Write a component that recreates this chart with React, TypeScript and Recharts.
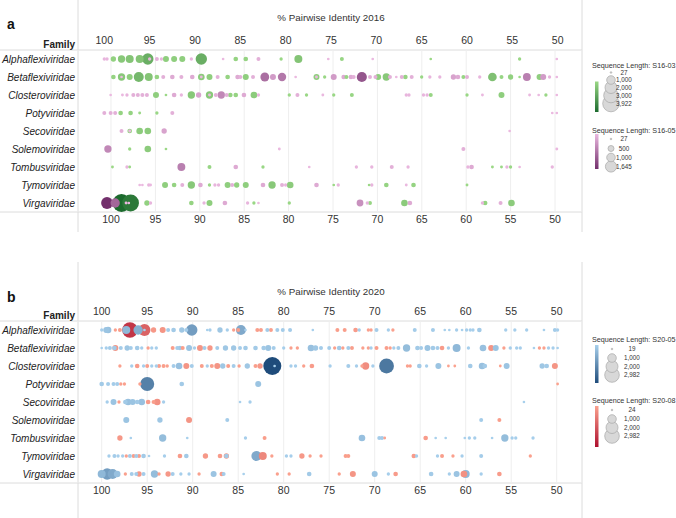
import React from 'react';
import { ScatterChart, Scatter, XAxis, YAxis, ZAxis, CartesianGrid } from 'recharts';

const FAMILIES = ['Alphaflexiviridae', 'Betaflexiviridae', 'Closteroviridae', 'Potyviridae', 'Secoviridae', 'Solemoviridae', 'Tombusviridae', 'Tymoviridae', 'Virgaviridae'];
const FAM_KEYS = ['A', 'B', 'C', 'P', 'S', 'So', 'T', 'Ty', 'V'];
const PID_TICKS = [100, 95, 90, 85, 80, 75, 70, 65, 60, 55, 50];
const ROW_TICKS = [0, 1, 2, 3, 4, 5, 6, 7, 8];

type Row = [string, number, number]; // family key, % pairwise identity, sequence length

// ---------- 2016, S16-03 (green) ----------
const S16_03: Row[] = [
  ['A', 99.0, 287], ['A', 98.1, 599], ['A', 97.2, 726], ['A', 96.1, 726], ['A', 95.2, 1520], ['A', 93.2, 381], ['A', 92.3, 381], ['A', 91.4, 381], ['A', 89.3, 1520], ['A', 85.5, 205], ['A', 84.4, 205], ['A', 80.5, 74], ['A', 78.6, 726], ['A', 73.8, 134], ['A', 64.0, 27], ['A', 54.2, 74],
  ['B', 99.0, 205], ['B', 98.1, 599], ['B', 97.2, 381], ['B', 96.2, 1169], ['B', 95.1, 726], ['B', 94.2, 205], ['B', 89.3, 485], ['B', 88.4, 381], ['B', 86.4, 205], ['B', 84.4, 381], ['B', 76.6, 381], ['B', 75.7, 74], ['B', 73.3, 134], ['B', 69.8, 381], ['B', 68.9, 599], ['B', 66.8, 205], ['B', 65.0, 74], ['B', 60.4, 134], ['B', 57.2, 861], ['B', 56.2, 134], ['B', 55.2, 287], ['B', 54.2, 27], ['B', 52.0, 381],
  ['C', 94.3, 381], ['C', 93.2, 27], ['C', 90.4, 599], ['C', 88.4, 599], ['C', 86.1, 205], ['C', 85.5, 205], ['C', 83.5, 485], ['C', 79.6, 74], ['C', 77.7, 74], ['C', 74.7, 74], ['C', 72.7, 134], ['C', 64.0, 134], ['C', 60.0, 74], ['C', 56.2, 381], ['C', 51.3, 74],
  ['P', 98.2, 205], ['P', 97.1, 205], ['P', 96.1, 40], ['P', 94.2, 74],
  ['S', 97.2, 205], ['S', 96.1, 485], ['S', 95.2, 485],
  ['So', 97.2, 74], ['So', 95.2, 485], ['So', 93.2, 27],
  ['T', 99.1, 40], ['T', 97.2, 40], ['T', 88.4, 134], ['T', 82.5, 74], ['T', 57.2, 40], ['T', 56.2, 40], ['T', 55.2, 74],
  ['Ty', 93.3, 381], ['Ty', 92.3, 205], ['Ty', 90.4, 599], ['Ty', 88.4, 74], ['Ty', 86.4, 381], ['Ty', 85.4, 287], ['Ty', 84.4, 381], ['Ty', 81.5, 599], ['Ty', 79.5, 485], ['Ty', 74.7, 27], ['Ty', 70.8, 27], ['Ty', 68.9, 205], ['Ty', 65.9, 205], ['Ty', 60.0, 40],
  ['V', 98.1, 3922], ['V', 97.1, 3400], ['V', 95.3, 287], ['V', 90.4, 205], ['V', 88.4, 381], ['V', 83.5, 74], ['V', 79.6, 74], ['V', 70.7, 134], ['V', 66.9, 485], ['V', 58.0, 205], ['V', 55.1, 485],
];

// ---------- 2016, S16-05 (pink / purple) ----------
const S16_05: Row[] = [
  ['A', 100, 74], ['A', 99.7, 74], ['A', 95.0, 74], ['A', 94.2, 134], ['A', 93.7, 74], ['A', 90.4, 74], ['A', 86.9, 27], ['A', 83.0, 134], ['A', 75.3, 27], ['A', 70.4, 27], ['A', 50.1, 27],
  ['B', 98.1, 27], ['B', 93.5, 134], ['B', 92.5, 205], ['B', 91.5, 134], ['B', 90.3, 205], ['B', 89.3, 40], ['B', 87.5, 134], ['B', 85.3, 205], ['B', 85.0, 134], ['B', 83.6, 134], ['B', 82.3, 900], ['B', 81.4, 381], ['B', 80.4, 800], ['B', 78.9, 27], ['B', 76.6, 40], ['B', 74.7, 381], ['B', 73.6, 205], ['B', 72.8, 205], ['B', 72.5, 134], ['B', 71.6, 1200], ['B', 70.7, 134], ['B', 70.1, 134], ['B', 68.5, 134], ['B', 67.8, 27], ['B', 67.2, 134], ['B', 66.1, 134], ['B', 64.1, 74], ['B', 63.0, 74], ['B', 61.5, 287], ['B', 61.0, 205], ['B', 60.0, 134], ['B', 58.6, 74], ['B', 53.4, 700], ['B', 51.6, 381], ['B', 50.9, 74], ['B', 50.1, 27],
  ['C', 99.3, 27], ['C', 98.0, 40], ['C', 97.5, 74], ['C', 96.8, 134], ['C', 96.3, 134], ['C', 95.8, 134], ['C', 95.3, 134], ['C', 92.3, 205], ['C', 91.5, 74], ['C', 89.6, 287], ['C', 88.4, 40], ['C', 87.7, 134], ['C', 87.1, 600], ['C', 86.5, 134], ['C', 84.6, 205], ['C', 83.0, 74], ['C', 78.7, 134], ['C', 75.9, 40], ['C', 66.7, 74], ['C', 66.4, 74], ['C', 64.8, 74], ['C', 64.4, 74], ['C', 58.3, 40], ['C', 53.1, 40], ['C', 52.1, 27], ['C', 50.1, 27],
  ['P', 100, 134], ['P', 99.3, 134], ['P', 98.8, 134], ['P', 92.5, 134], ['P', 50.6, 27], ['P', 50.1, 27],
  ['S', 98.1, 134], ['S', 97.2, 40], ['S', 93.4, 287], ['S', 55.3, 27],
  ['So', 99.6, 600], ['So', 80.7, 40], ['So', 60.4, 134], ['So', 50.1, 40],
  ['T', 97.5, 74], ['T', 91.5, 700], ['T', 85.5, 205], ['T', 77.4, 27], ['T', 72.2, 74], ['T', 70.5, 74], ['T', 68.3, 134], ['T', 66.5, 74], ['T', 59.9, 74], ['T', 59.5, 205], ['T', 55.6, 74], ['T', 54.2, 27], ['T', 50.6, 74],
  ['Ty', 96.1, 27], ['Ty', 95.8, 27], ['Ty', 95.1, 74], ['Ty', 94.9, 40], ['Ty', 91.4, 134], ['Ty', 89.4, 205], ['Ty', 87.8, 74], ['Ty', 87.4, 74], ['Ty', 85.9, 134], ['Ty', 82.5, 205], ['Ty', 80.4, 134], ['Ty', 80.0, 74], ['Ty', 76.6, 205], ['Ty', 74.2, 74], ['Ty', 70.5, 74], ['Ty', 66.7, 40],
  ['V', 99.7, 1645], ['V', 98.8, 1000], ['V', 97.6, 40], ['V', 97.3, 27], ['V', 94.9, 74], ['V', 89.0, 74], ['V', 86.7, 205], ['V', 84.2, 74], ['V', 83.0, 27], ['V', 71.8, 500], ['V', 71.0, 74], ['V', 66.3, 205], ['V', 58.3, 74], ['V', 56.3, 134],
];

// ---------- 2020, S20-05 (blue) ----------
const S20_05: Row[] = [
  ['A', 100, 56], ['A', 99.5, 290], ['A', 99.3, 369], ['A', 97.3, 552], ['A', 96.0, 768], ['A', 95.3, 19], ['A', 92.7, 102], ['A', 92.1, 156], ['A', 91.2, 218], ['A', 90.7, 102], ['A', 90.1, 1156], ['A', 88.4, 19], ['A', 88.1, 56], ['A', 87.0, 218], ['A', 86.2, 56], ['A', 84.7, 889], ['A', 84.2, 19], ['A', 81.8, 102], ['A', 80.7, 102], ['A', 80.1, 102], ['A', 79.3, 102], ['A', 76.8, 19], ['A', 71.7, 56], ['A', 69.8, 102], ['A', 68.5, 56], ['A', 65.6, 102], ['A', 63.6, 102], ['A', 62.3, 19], ['A', 61.8, 19], ['A', 61.0, 56], ['A', 60.4, 19], ['A', 59.9, 56], ['A', 59.5, 56], ['A', 59.2, 56], ['A', 58.5, 156], ['A', 55.6, 56], ['A', 54.6, 56], ['A', 53.3, 56], ['A', 51.4, 19], ['A', 50.2, 102], ['A', 49.9, 56],
  ['B', 100, 19], ['B', 99.5, 56], ['B', 99.1, 102], ['B', 98.6, 156], ['B', 97.9, 102], ['B', 97.2, 218], ['B', 96.8, 102], ['B', 96.1, 156], ['B', 95.6, 56], ['B', 94.5, 56], ['B', 94.0, 56], ['B', 91.7, 102], ['B', 91.4, 156], ['B', 90.4, 290], ['B', 89.8, 56], ['B', 88.7, 102], ['B', 87.3, 102], ['B', 86.4, 218], ['B', 85.5, 218], ['B', 84.8, 102], ['B', 84.2, 156], ['B', 83.1, 156], ['B', 82.2, 156], ['B', 81.7, 290], ['B', 81.1, 102], ['B', 80.0, 56], ['B', 77.0, 369], ['B', 76.5, 218], ['B', 75.9, 102], ['B', 75.0, 102], ['B', 73.9, 156], ['B', 72.9, 102], ['B', 70.4, 56], ['B', 67.9, 56], ['B', 67.4, 102], ['B', 66.5, 456], ['B', 65.3, 156], ['B', 64.9, 102], ['B', 64.2, 290], ['B', 63.6, 156], ['B', 63.1, 102], ['B', 61.9, 56], ['B', 61.0, 552], ['B', 59.7, 56], ['B', 58.1, 369], ['B', 56.7, 290], ['B', 55.1, 56], ['B', 54.4, 56], ['B', 54.0, 56], ['B', 52.5, 19], ['B', 50.9, 56], ['B', 50.4, 56], ['B', 49.9, 19],
  ['C', 96.7, 56], ['C', 95.4, 56], ['C', 94.5, 56], ['C', 94.0, 56], ['C', 92.1, 102], ['C', 91.5, 369], ['C', 90.1, 102], ['C', 88.4, 56], ['C', 86.7, 218], ['C', 85.5, 102], ['C', 84.0, 218], ['C', 81.25, 2982], ['C', 81.0, 19], ['C', 79.2, 56], ['C', 78.7, 56], ['C', 74.9, 56], ['C', 72.9, 102], ['C', 72.0, 56], ['C', 70.2, 56], ['C', 68.7, 2000], ['C', 65.1, 156], ['C', 64.3, 56], ['C', 63.0, 290], ['C', 59.5, 156], ['C', 58.2, 369], ['C', 57.9, 156], ['C', 55.5, 290], ['C', 51.6, 218], ['C', 51.1, 156],
  ['P', 100, 156], ['P', 99.3, 102], ['P', 98.7, 102], ['P', 98.3, 102], ['P', 95.0, 1800], ['P', 91.2, 156], ['P', 82.8, 290],
  ['S', 99.4, 56], ['S', 98.7, 290], ['S', 97.4, 156], ['S', 97.1, 369], ['S', 96.6, 290], ['S', 96.1, 156], ['S', 95.6, 369], ['S', 93.2, 56], ['S', 84.8, 19], ['S', 83.7, 56], ['S', 53.6, 19],
  ['So', 97.3, 290], ['So', 93.6, 218], ['So', 86.2, 102], ['So', 58.3, 102],
  ['T', 96.8, 19], ['T', 93.3, 456], ['T', 90.6, 19], ['T', 84.2, 56], ['T', 71.4, 369], ['T', 69.5, 102], ['T', 69.2, 102], ['T', 63.3, 19], ['T', 62.2, 19], ['T', 60.1, 19], ['T', 59.6, 56], ['T', 59.0, 56], ['T', 57.1, 19], ['T', 55.7, 456], ['T', 54.9, 56], ['T', 54.5, 56], ['T', 52.6, 56],
  ['Ty', 99.2, 56], ['Ty', 98.6, 102], ['Ty', 98.2, 56], ['Ty', 97.7, 56], ['Ty', 96.9, 102], ['Ty', 96.2, 102], ['Ty', 95.4, 156], ['Ty', 94.8, 19], ['Ty', 93.1, 56], ['Ty', 90.7, 156], ['Ty', 86.3, 156], ['Ty', 83.0, 889], ['Ty', 79.7, 56], ['Ty', 79.2, 56], ['Ty', 65.4, 56], ['Ty', 63.1, 56], ['Ty', 60.4, 56], ['Ty', 58.3, 102],
  ['V', 100, 552], ['V', 99.4, 1156], ['V', 98.8, 889], ['V', 98.3, 369], ['V', 96.7, 102], ['V', 96.2, 102], ['V', 95.4, 102], ['V', 94.2, 456], ['V', 92.2, 102], ['V', 91.3, 56], ['V', 90.4, 56], ['V', 87.7, 290], ['V', 86.6, 102], ['V', 84.4, 19], ['V', 77.2, 156], ['V', 70.0, 290], ['V', 68.5, 56], ['V', 63.8, 156], ['V', 61.8, 56], ['V', 61.0, 290], ['V', 60.0, 552], ['V', 58.3, 56],
];

// ---------- 2020, S20-08 (red) ----------
const S20_08: Row[] = [
  ['A', 98.5, 56], ['A', 98.0, 102], ['A', 96.9, 2200], ['A', 95.3, 1300], ['A', 94.3, 218], ['A', 93.3, 290], ['A', 85.5, 56], ['A', 85.0, 102], ['A', 82.9, 102], ['A', 82.5, 102], ['A', 81.4, 102], ['A', 74.1, 102], ['A', 73.3, 102], ['A', 72.1, 156], ['A', 70.7, 56], ['A', 70.4, 56], ['A', 68.0, 56],
  ['B', 98.5, 290], ['B', 94.9, 56], ['B', 92.2, 102], ['B', 91.1, 102], ['B', 89.2, 290], ['B', 88.1, 218], ['B', 79.2, 56], ['B', 78.5, 56], ['B', 74.4, 56], ['B', 73.5, 56], ['B', 72.5, 102], ['B', 71.3, 56], ['B', 70.7, 56], ['B', 69.8, 102], ['B', 68.7, 102], ['B', 68.3, 56], ['B', 62.6, 156], ['B', 57.2, 290], ['B', 55.8, 56], ['B', 51.9, 56], ['B', 51.4, 56],
  ['C', 98.0, 56], ['C', 96.1, 156], ['C', 95.0, 102], ['C', 93.7, 102], ['C', 93.2, 102], ['C', 92.8, 56], ['C', 90.7, 290], ['C', 89.0, 102], ['C', 87.9, 102], ['C', 87.3, 290], ['C', 86.1, 102], ['C', 84.9, 56], ['C', 83.1, 102], ['C', 82.6, 218], ['C', 77.8, 56], ['C', 76.9, 156], ['C', 71.4, 56], ['C', 71.0, 456], ['C', 66.4, 56], ['C', 66.1, 56], ['C', 61.9, 24], ['C', 61.2, 24], ['C', 56.2, 24], ['C', 50.2, 290],
  ['P', 97.9, 56], ['P', 97.5, 56], ['P', 95.8, 56], ['P', 49.9, 24],
  ['S', 98.1, 56], ['S', 94.9, 156], ['S', 94.3, 102], ['S', 93.9, 369],
  ['So', 90.4, 290], ['So', 56.3, 102],
  ['T', 98.0, 218], ['T', 82.1, 102], ['T', 68.9, 24], ['T', 64.4, 156],
  ['Ty', 97.3, 56], ['Ty', 96.5, 102], ['Ty', 95.9, 102], ['Ty', 91.4, 156], ['Ty', 88.6, 218], ['Ty', 87.0, 156], ['Ty', 86.3, 218], ['Ty', 82.3, 552], ['Ty', 81.3, 56], ['Ty', 78.0, 218], ['Ty', 77.1, 56], ['Ty', 75.9, 56], ['Ty', 73.2, 102], ['Ty', 72.9, 102], ['Ty', 65.7, 156], ['Ty', 62.6, 102], ['Ty', 61.4, 56], ['Ty', 52.9, 56],
  ['V', 97.4, 56], ['V', 95.9, 218], ['V', 93.7, 56], ['V', 92.7, 218], ['V', 89.3, 56], ['V', 86.8, 156], ['V', 80.7, 56], ['V', 79.4, 56], ['V', 73.9, 56], ['V', 72.4, 290], ['V', 67.7, 156], ['V', 60.2, 369], ['V', 56.3, 156],
];

// legend values
const LEG_16_03 = [27, 1000, 2000, 3000, 3922];
const LEG_16_05 = [27, 500, 1000, 1645];
const LEG_20_05 = [19, 1000, 2000, 2982];
const LEG_20_08 = [24, 1000, 2000, 2982];

const FONT = '"Liberation Sans", Arial, Helvetica, sans-serif';

const RAMPS: Record<string, [string, string]> = {
  s1603: ['#9bd886', '#1b6a2d'],
  s1605: ['#ebb9e0', '#73306c'],
  s2005: ['#a8d0ec', '#1f4c7b'],
  s2008: ['#fba28e', '#ae0f2e'],
};

function hex(c: string) {
  return [parseInt(c.slice(1, 3), 16), parseInt(c.slice(3, 5), 16), parseInt(c.slice(5, 7), 16)];
}
function mix(a: string, b: string, t: number) {
  const A = hex(a), B = hex(b);
  const tt = Math.max(0, Math.min(1, t));
  const m = A.map((v, i) => Math.round(v + (B[i] - v) * tt));
  return `rgb(${m[0]},${m[1]},${m[2]})`;
}

function build(series: { key: string; rows: Row[]; min: number; max: number }[]) {
  const out: { pid: number; row: number; len: number; c: string }[] = [];
  series.forEach((s) => {
    const [c0, c1] = RAMPS[s.key];
    s.rows.forEach(([f, pid, len]) => {
      out.push({ pid, row: FAM_KEYS.indexOf(f), len, c: mix(c0, c1, (len - s.min) / (s.max - s.min)) });
    });
  });
  return out.sort((a, b) => b.len - a.len);
}

const DATA_2016 = build([
  { key: 's1603', rows: S16_03, min: 27, max: 3922 },
  { key: 's1605', rows: S16_05, min: 27, max: 1645 },
]);
const DATA_2020 = build([
  { key: 's2008', rows: S20_08, min: 24, max: 2982 },
  { key: 's2005', rows: S20_05, min: 19, max: 2982 },
]);

const Dot = (p: any) => {
  if (p.cx == null || p.cy == null) return <g />;
  const r = Math.max(0.9, (p.width ?? 2) / 2);
  return <circle cx={p.cx} cy={p.cy} r={r} fill={p.payload?.c ?? p.fill} />;
};

const TopTick = (p: any) => (
  <text x={p.x} y={p.y} textAnchor="middle" fontSize={10.5} fill="#333" fontFamily={FONT}>
    {p.payload.value}
  </text>
);
const BottomTick = (p: any) => (
  <text x={p.x} y={p.y + 9} textAnchor="middle" fontSize={10.5} fill="#333" fontFamily={FONT}>
    {p.payload.value}
  </text>
);
const FamTick = (p: any) => (
  <text x={p.x} y={p.y + 3.5} textAnchor="end" fontStyle="italic" fontSize={10} fill="#222" fontFamily={FONT}>
    {FAMILIES[p.payload.value]}
  </text>
);

function Panel(props: { data: any[]; topH: number; bottomMargin: number; domTop: [number, number]; domBottom: [number, number]; zMax: number }) {
  const { data, topH, bottomMargin, domTop, domBottom, zMax } = props;
  return (
    <ScatterChart width={676} height={259} margin={{ top: 0, right: 94, bottom: bottomMargin, left: 0 }}>
      <CartesianGrid horizontal={false} vertical={true} xAxisId="bottom" yAxisId="fam" stroke="#eeeeee" />
      <XAxis xAxisId="top" orientation="top" type="number" dataKey="pid" domain={domTop} allowDataOverflow reversed ticks={PID_TICKS} interval={0} height={topH} axisLine={false} tickLine={false} tickSize={0} tickMargin={6} tick={TopTick} />
      <XAxis xAxisId="bottom" orientation="bottom" type="number" dataKey="pid" domain={domBottom} allowDataOverflow reversed ticks={PID_TICKS} interval={0} height={20} axisLine={false} tickLine={false} tickSize={0} tickMargin={2} tick={BottomTick} />
      <YAxis yAxisId="fam" type="number" dataKey="row" domain={[-0.5, 8.5]} allowDataOverflow reversed ticks={ROW_TICKS} interval={0} width={78} axisLine={false} tickLine={false} tickSize={0} tickMargin={3} tick={FamTick} />
      <ZAxis zAxisId="len" type="number" dataKey="len" domain={[0, zMax]} range={[4, 254]} />
      <Scatter data={data} xAxisId="top" yAxisId="fam" zAxisId="len" isAnimationActive={false} shape={Dot} />
    </ScatterChart>
  );
}

function SizeLegend(props: { x: number; y: number; title: string; ramp: [string, string]; values: number[]; ys: number[]; rs: number[]; cx: number; lx: number; barTop: number; barBot: number; id: string }) {
  const { x, y, title, ramp, values, ys, rs, cx, lx, barTop, barBot, id } = props;
  const order = values.map((_, i) => i).reverse();
  return (
    <g fontFamily={FONT}>
      <defs>
        <linearGradient id={id} x1="0" y1="0" x2="0" y2="1">
          <stop offset="0" stopColor={ramp[0]} />
          <stop offset="1" stopColor={ramp[1]} />
        </linearGradient>
      </defs>
      <text x={x} y={y} fontSize={7.2} fill="#333">{title}</text>
      <rect x={x + 3} y={barTop} width={3.5} height={barBot - barTop} fill={`url(#${id})`} />
      {order.map((i) => (
        <circle key={'c' + i} cx={cx} cy={ys[i]} r={rs[i]} fill="#d8d8d8" stroke="#a8a8a8" strokeWidth={0.7} />
      ))}
      {values.map((v, i) => (
        <text key={'t' + i} x={lx} y={ys[i] + 2.2} fontSize={6.3} fill="#333" textAnchor="middle">
          {v.toLocaleString('en-US')}
        </text>
      ))}
    </g>
  );
}

export default function App() {
  return (
    <div style={{ position: 'absolute', left: 0, top: 0, width: 676, height: 518, background: '#fff' }}>
      <svg width={676} height={518} style={{ position: 'absolute', left: 0, top: 0 }}>
        {/* panel a frame */}
        <line x1={0} y1={50} x2={582} y2={50} stroke="#dcdcdc" />
        <line x1={0} y1={212} x2={582} y2={212} stroke="#dcdcdc" />
        <line x1={78} y1={0} x2={78} y2={232} stroke="#dcdcdc" />
        <line x1={582} y1={0} x2={582} y2={232} stroke="#dcdcdc" />
        {/* panel b frame */}
        <line x1={0} y1={321} x2={582} y2={321} stroke="#dcdcdc" />
        <line x1={0} y1={483} x2={582} y2={483} stroke="#dcdcdc" />
        <line x1={78} y1={262} x2={78} y2={518} stroke="#dcdcdc" />
        <line x1={582} y1={262} x2={582} y2={518} stroke="#dcdcdc" />

        <g fontFamily={FONT}>
          <text x={7} y={29} fontSize={14} fontWeight="bold" fill="#111">a</text>
          <text x={75} y={48} fontSize={10} fontWeight="bold" fill="#222" textAnchor="end">Family</text>
          <text x={331} y={21} fontSize={9.8} fill="#333" textAnchor="middle">% Pairwise Identity 2016</text>

          <text x={7} y={302} fontSize={14} fontWeight="bold" fill="#111">b</text>
          <text x={75} y={319} fontSize={10} fontWeight="bold" fill="#222" textAnchor="end">Family</text>
          <text x={331} y={295} fontSize={9.8} fill="#333" textAnchor="middle">% Pairwise Identity 2020</text>
        </g>

        <SizeLegend id="g1603" x={592} y={68} title="Sequence Length: S16-03" ramp={RAMPS.s1603} values={LEG_16_03} ys={[72.5, 80, 87.5, 95.5, 103.5]} rs={[0.8, 4.3, 6, 7.3, 8.3]} cx={611} lx={624} barTop={81.5} barBot={112} />
        <SizeLegend id="g1605" x={592} y={133} title="Sequence Length: S16-05" ramp={RAMPS.s1605} values={LEG_16_05} ys={[139, 148.5, 157.5, 166.5]} rs={[0.8, 3, 4.3, 5.6]} cx={611} lx={624} barTop={134} barBot={169} />
        <SizeLegend id="g2005" x={592} y={342} title="Sequence Length: S20-05" ramp={RAMPS.s2005} values={LEG_20_05} ys={[349, 358, 366.5, 375]} rs={[0.8, 4.3, 6, 7.3]} cx={612} lx={632} barTop={345} barBot={383} />
        <SizeLegend id="g2008" x={592} y={403} title="Sequence Length: S20-08" ramp={RAMPS.s2008} values={LEG_20_08} ys={[410, 419, 427.5, 436]} rs={[0.8, 4.3, 6, 7.3]} cx={612} lx={632} barTop={406} barBot={447} />
      </svg>

      <div style={{ position: 'absolute', left: 0, top: 0 }}>
        <Panel data={DATA_2016} topH={50} bottomMargin={27} domTop={[47.32, 102.9]} domBottom={[46.96, 103.716]} zMax={3922} />
      </div>
      <div style={{ position: 'absolute', left: 0, top: 259 }}>
        <Panel data={DATA_2020} topH={62} bottomMargin={15} domTop={[47.22, 102.604]} domBottom={[47.22, 102.604]} zMax={2982} />
      </div>
    </div>
  );
}
